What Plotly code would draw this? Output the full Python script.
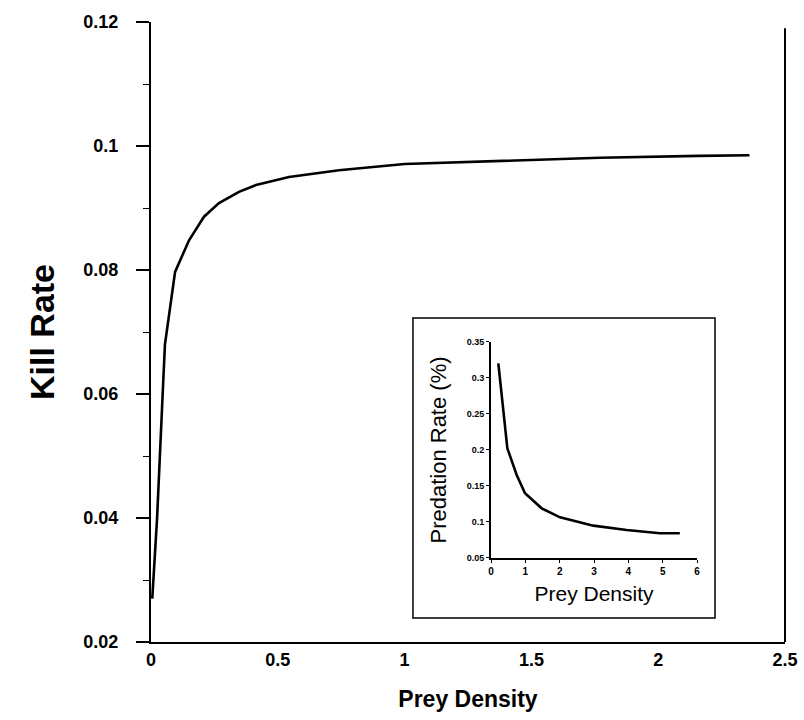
import plotly.graph_objects as go

# Main curve: kill rate vs prey density
prey_density = [0.005, 0.024, 0.046, 0.055, 0.095, 0.15, 0.209, 0.268, 0.347, 0.414,
                0.544, 0.741, 1.0, 1.37, 1.77, 2.16, 2.36]
kill_rate = [0.027, 0.040, 0.060, 0.068, 0.0797, 0.0848, 0.0886, 0.0908, 0.0926, 0.0937,
             0.0950, 0.0961, 0.0971, 0.0976, 0.0981, 0.0984, 0.0985]

# Inset curve: predation rate vs prey density
inset_density = [0.213, 0.476, 0.748, 0.99, 1.476, 2.01, 2.98, 3.95, 4.92, 5.5]
predation_rate = [0.3204, 0.2023, 0.1653, 0.1398, 0.119, 0.1065, 0.0949, 0.0889, 0.0843, 0.0843]

main_x_ticks = [0, 0.5, 1, 1.5, 2, 2.5]
main_y_ticks = [0.02, 0.04, 0.06, 0.08, 0.1, 0.12]
inset_x_ticks = [0, 1, 2, 3, 4, 5, 6]
inset_y_ticks = [0.05, 0.1, 0.15, 0.2, 0.25, 0.3, 0.35]

FONT = "Liberation Sans, Arial, Helvetica, sans-serif"

fig = go.Figure()
fig.add_trace(go.Scatter(x=prey_density, y=kill_rate, mode="lines",
                         line=dict(color="black", width=2.6), showlegend=False,
                         xaxis="x", yaxis="y"))
fig.add_trace(go.Scatter(x=inset_density, y=predation_rate, mode="lines",
                         line=dict(color="black", width=2.6), showlegend=False,
                         xaxis="x2", yaxis="y2"))

fig.update_layout(
    width=804, height=720,
    margin=dict(l=151, r=19, t=22, b=78),
    paper_bgcolor="white", plot_bgcolor="white",
    font=dict(family=FONT, color="black"),
    xaxis=dict(range=[0, 2.5], tickvals=main_x_ticks, ticktext=["0", "0.5", "1", "1.5", "2", "2.5"],
               automargin=False,
               showgrid=False, zeroline=False, showline=True, linecolor="black", linewidth=2,
               ticks="", tickfont=dict(size=18, weight="bold"),
               title=dict(text="Prey Density", font=dict(size=23, weight="bold"), standoff=22)),
    yaxis=dict(range=[0.02, 0.12], tickvals=main_y_ticks,
               ticktext=["0.02", "0.04", "0.06", "0.08", "0.1", "0.12"],
               automargin=False,
               showgrid=False, zeroline=False, showline=True, linecolor="black", linewidth=2,
               ticks="outside", ticklen=13, tickwidth=1.5, tickcolor="black",
               ticklabelstandoff=14,
               minor=dict(dtick=0.01, tick0=0.02, ticks="outside", ticklen=6, tickwidth=1.2,
                          tickcolor="black", showgrid=False),
               tickfont=dict(size=18, weight="bold"),
               title=dict(text="Kill Rate", font=dict(size=34, weight="bold"), standoff=18)),
    xaxis2=dict(domain=[0.5363, 0.8612], anchor="y2", range=[0, 6], tickvals=inset_x_ticks,
                automargin=False,
                showgrid=False, zeroline=False, showline=True, linecolor="black", linewidth=2,
                ticks="outside", ticklen=3, tickcolor="black",
                tickfont=dict(size=10, weight="bold"),
                title=dict(text="Prey Density", font=dict(size=21), standoff=10)),
    yaxis2=dict(domain=[0.1355, 0.4839], anchor="x2", range=[0.05, 0.35], tickvals=inset_y_ticks,
                ticktext=["0.05", "0.1", "0.15", "0.2", "0.25", "0.3", "0.35"],
                automargin=False,
                showgrid=False, zeroline=False, showline=True, linecolor="black", linewidth=2,
                ticks="outside", ticklen=3, tickcolor="black",
                tickfont=dict(size=9, weight="bold"),
                title=dict(text="Predation Rate (%)", font=dict(size=22), standoff=14)),
    shapes=[
        # inset frame
        dict(type="rect", xref="paper", yref="paper", x0=0.4132, x1=0.8896, y0=0.0387, y1=0.5226,
             line=dict(color="black", width=1.5), fillcolor="white", layer="below"),
        # right-hand axis line of the main plot
        dict(type="line", xref="x domain", yref="y domain", x0=1, x1=1, y0=0, y1=0.99,
             line=dict(color="black", width=2)),
    ],
)

fig.write_html("out.html", config={"displayModeBar": False},
               post_script="document.body.style.margin='0';document.body.style.padding='0';")
